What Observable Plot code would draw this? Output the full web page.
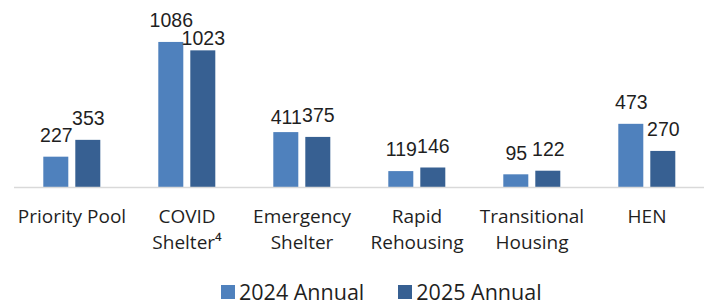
<!DOCTYPE html>
<html>
<head>
<meta charset="utf-8">
<script src="https://cdn.jsdelivr.net/npm/d3@7"></script>
<script src="https://cdn.jsdelivr.net/npm/@observablehq/plot@0.6"></script>
<style>
  body { margin: 0; background: #fff; }
  #chart { width: 707px; }
  .lg-swatches { margin: 10.5px 0 0 221px !important; min-height: 0 !important; height: 22px; justify-content: flex-start; color: #1f1f1f; line-height: 1; }
  .lg-swatch { margin-right: 34px !important; }
  .lg-swatch > svg { margin-right: 4px !important; }
</style>
</head>
<body>
<div id="chart"></div>
<script>
const categories = ["Priority Pool", "COVID\nShelter⁴", "Emergency\nShelter", "Rapid\nRehousing", "Transitional\nHousing", "HEN"];
const seriesNames = ["2024 Annual", "2025 Annual"];
const values2024 = [227, 1086, 411, 119, 95, 473];
const values2025 = [353, 1023, 375, 146, 122, 270];
const colors = ["#4f81bd", "#376092"];

const data = categories.flatMap((c, i) => [
  {category: c, series: seriesNames[0], value: values2024[i]},
  {category: c, series: seriesNames[1], value: values2025[i]}
]);

// labels that sit closer to their bar in the reference (to avoid overlap)
const closeLabel = (d) => (d.category === categories[1] && d.series === seriesNames[1]);
const nearLabel = (d) => (d.category === categories[2] && d.series === seriesNames[0]);
const normalLabel = (d) => !closeLabel(d) && !nearLabel(d);

const labelStyle = {
  fx: "category", x: "series", y: "value", text: (d) => String(d.value),
  lineAnchor: "bottom", fontSize: 19.5, fontFamily: "'Liberation Sans', Arial, sans-serif", fill: "#1f1f1f"
};

const plot = Plot.plot({
  width: 707,
  height: 270,
  marginTop: 0,
  marginBottom: 83,
  marginLeft: 12.7,
  marginRight: 2.3,
  style: {fontFamily: "'Open Sans', sans-serif", color: "#1f1f1f", background: "#fff"},
  fx: {domain: categories, padding: 0, axis: null, label: null},
  x: {domain: seriesNames, paddingInner: 0.214, paddingOuter: 0.87, axis: null},
  y: {domain: [0, 1400], axis: null},
  color: {domain: seriesNames, range: colors},
  marks: [
    Plot.barY(data, {fx: "category", x: "series", y: "value", fill: "series"}),
    Plot.ruleY([0], {stroke: "#d9d9d9", strokeWidth: 1.5}),
    Plot.text(data, {...labelStyle, filter: normalLabel, dy: -15.3}),
    Plot.text(data, {...labelStyle, filter: closeLabel, dy: -6.3}),
    Plot.text(data, {...labelStyle, filter: nearLabel, dy: -8.3}),
    Plot.axisFx({anchor: "bottom", tickSize: 0, tickPadding: 18, label: null,
      fontSize: 19, lineHeight: 1.33, fontFamily: "'Open Sans', sans-serif", fill: "#1f1f1f"})
  ]
});

const legend = Plot.legend({
  color: {domain: seriesNames, range: colors},
  legend: "swatches",
  swatchSize: 14,
  className: "lg",
  style: {fontSize: "21.5px", fontFamily: "'Open Sans', sans-serif"}
});

const root = document.getElementById("chart");
root.appendChild(plot);
root.appendChild(legend);
</script>
</body>
</html>
